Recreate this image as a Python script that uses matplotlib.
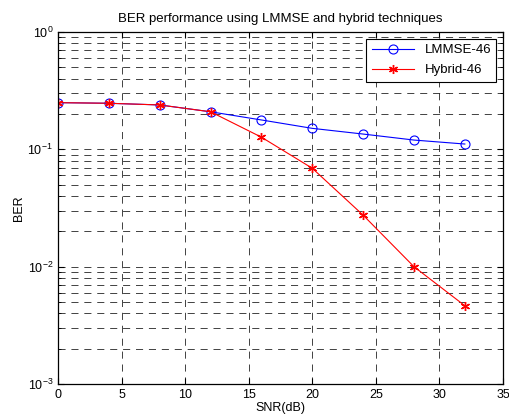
import numpy as np
import matplotlib
matplotlib.use('Agg')
import matplotlib.pyplot as plt
from matplotlib.ticker import LogLocator, NullFormatter

plt.rcParams['font.family'] = ['Liberation Sans', 'DejaVu Sans']
plt.rcParams['font.size'] = 9

# data
snr_db = [0, 4, 8, 12, 16, 20, 24, 28, 32]
ber_lmmse = [0.250, 0.247, 0.239, 0.209, 0.178, 0.151, 0.135, 0.120, 0.111]
ber_hybrid = [0.250, 0.247, 0.239, 0.209, 0.127, 0.069, 0.0275, 0.0100, 0.00465]

fig = plt.figure(figsize=(5.1, 4.19), dpi=100)
ax = fig.add_axes([0.1137, 0.0835, 0.8725, 0.8401])

ax.semilogy(snr_db, ber_lmmse, '-o', color='blue', lw=0.8, markersize=6.5,
            markerfacecolor='none', markeredgewidth=0.8, label='LMMSE-46')
ax.semilogy(snr_db, ber_hybrid, '-', marker=(6, 2, 0), color='red', lw=0.8,
            markersize=6.5, markeredgewidth=1.0, label='Hybrid-46')

ax.set_xlim(0, 35)
ax.set_ylim(1e-3, 1)
ax.set_xticks(range(0, 36, 5))
ax.yaxis.set_major_locator(LogLocator(base=10, numticks=10))
ax.yaxis.set_minor_locator(LogLocator(base=10, subs=np.arange(2, 10), numticks=10))
ax.yaxis.set_minor_formatter(NullFormatter())

dash = (0, (8.5, 7))
ax.grid(True, which='major', color='#222222', linestyle=dash, lw=0.6)
ax.grid(True, which='minor', axis='y', color='#222222', linestyle=dash, lw=0.6)

ax.tick_params(which='major', direction='in', top=True, right=True, labelsize=9, length=4)
ax.tick_params(which='minor', direction='in', top=True, right=True, length=2)
for s in ax.spines.values():
    s.set_linewidth(0.9)

ax.set_xlabel('SNR(dB)', fontsize=9, labelpad=1)
ax.set_ylabel('BER', fontsize=9, labelpad=2)
ax.set_title('BER performance using LMMSE and hybrid techniques', fontsize=9.5, pad=7)

leg = ax.legend(loc='upper right', fancybox=False, framealpha=1, edgecolor='black',
                fontsize=9.5, borderaxespad=0.5, handlelength=3.2, labelspacing=0.6)
leg.get_frame().set_linewidth(0.8)

fig.savefig('out.png', dpi=100)
